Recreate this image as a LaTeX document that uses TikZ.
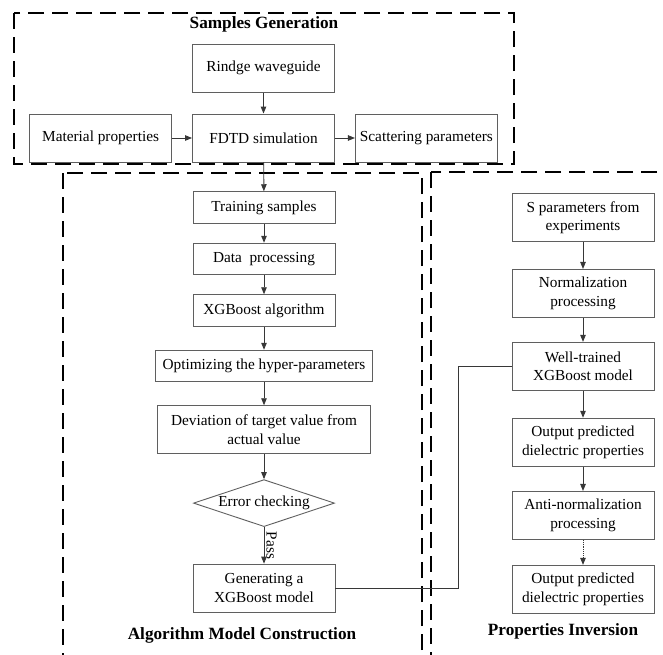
\documentclass[tikz,border=0pt]{standalone}
\usepackage{fontspec}
\setmainfont{Liberation Serif}
\usetikzlibrary{arrows.meta, positioning, shapes.geometric}
\definecolor{boxgray}{RGB}{95,95,95}
\definecolor{linegray}{RGB}{55,55,55}

\begin{document}
\begin{tikzpicture}[
    x=1pt, y=-1pt,
    >={Triangle[length=7pt,width=5.5pt]},
    font=\fontsize{15.3}{18.3}\selectfont,
    blk/.style={draw=boxgray, line width=0.9pt, rectangle, align=center, minimum width=142pt, minimum height=48pt, inner sep=2pt},
    sblk/.style={blk, minimum height=31.6pt},
    dec/.style={draw=boxgray, line width=0.9pt, diamond, aspect=3, minimum width=141pt, minimum height=47pt, inner sep=0pt},
    grp/.style={draw, line width=2.2pt, dash pattern=on 16pt off 8pt},
    ttl/.style={font=\fontsize{17.2}{20}\selectfont\bfseries},
    flow/.style={->, draw=linegray, line width=0.9pt},
]
    \useasboundingbox (0,0) rectangle (663,654);
    \clip (0,0) rectangle (663,654);

    % group frames
    \draw[grp] (14,13) rectangle (514,164);
    \draw[grp] (63,173) rectangle (422,700);
    \draw[grp] (431,172) rectangle (700,700);

    % samples generation
    \node[ttl] (tgen) at (264,24) {Samples Generation};
    \node[blk] (fdtd) at (263.5,138) {FDTD simulation};
    \node[blk, above=21pt of fdtd] (rid) {Rindge waveguide};
    \node[blk, left=20pt of fdtd] (mat) {Material properties};
    \node[blk, right=20pt of fdtd] (scat) {Scattering parameters};
    \draw[flow] (rid) -- (fdtd);
    \draw[flow] (mat) -- (fdtd);
    \draw[flow] (fdtd) -- (scat);

    % algorithm model construction
    \node[sblk] (train) at (264,207.5) {Training samples};
    \node[sblk, below=19pt of train] (data) {Data\ \ processing};
    \node[sblk, below=19pt of data] (xgb) {XGBoost algorithm};
    \node[sblk, below=23pt of xgb, minimum width=217pt] (opt) {Optimizing the hyper-parameters};
    \node[blk, below=23pt of opt, minimum width=213pt] (dev) {Deviation of target value from\\actual value};
    \node[dec, below=25pt of dev] (err) {Error checking};
    \node[blk, below=36.6pt of err] (gen) {Generating a\\XGBoost model};
    \node[ttl] (talg) at (242,635) {Algorithm Model Construction};
    \draw[flow] (fdtd) -- (train);
    \draw[flow] (train) -- (data);
    \draw[flow] (data) -- (xgb);
    \draw[flow] (xgb) -- (opt);
    \draw[flow] (opt) -- (dev);
    \draw[flow] (dev) -- (err);
    \draw[flow] (err) -- node[midway, rotate=-90, anchor=south, inner sep=2pt] (pass) {Pass} (gen);

    % properties inversion
    \node[blk] (sexp) at (583,217.5) {S parameters from\\experiments};
    \node[blk, below=27pt of sexp] (norm) {Normalization\\processing};
    \node[blk, below=24pt of norm] (well) {Well-trained\\XGBoost model};
    \node[blk, below=27pt of well] (out1) {Output predicted\\dielectric properties};
    \node[blk, below=24.3pt of out1] (anti) {Anti-normalization\\processing};
    \node[blk, below=25pt of anti] (out2) {Output predicted\\dielectric properties};
    \node[ttl] (tinv) at (563,631) {Properties Inversion};
    \draw[flow] (sexp) -- (norm);
    \draw[flow] (norm) -- (well);
    \draw[flow] (well) -- (out1);
    \draw[flow] (out1) -- (anti);
    \draw[flow, densely dotted] (anti) -- (out2);

    \coordinate (turn) at (458,0);
    \draw[draw=linegray, line width=0.9pt] (gen.east) -| (turn |- well.west) -- (well.west);
\end{tikzpicture}
\end{document}
